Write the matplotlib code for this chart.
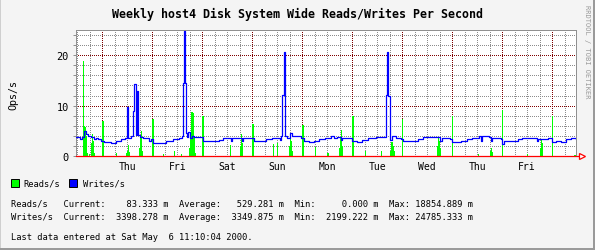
import matplotlib
matplotlib.use("Agg")
import matplotlib.pyplot as plt
from matplotlib.patches import Rectangle
import numpy as np

# ---------------- data (hours relative to Thu 00:00) ----------------
day_labels = ["Thu", "Fri", "Sat", "Sun", "Mon", "Tue", "Wed", "Thu", "Fri"]

writes_h = [-12.8, -10.9, -9.9, -9.0, -8.0, -7.1, -5.6, -4.2, -3.2, -2.3, -0.8, 0.6, 4.0, 6.4, 8.8,
            10.7, 11.7, 12.0, 12.4, 13.6, 14.5, 15.0, 15.5, 16.0, 16.7, 17.2, 17.9, 19.3, 21.3, 22.2,
            23.2, 24.1, 28.0, 30.4, 33.7, 36.6, 38.1, 38.7, 39.2, 39.7, 40.2, 40.7, 41.2, 42.1, 43.1,
            44.1, 47.0, 48.4, 53.3, 55.8, 57.7, 61.5, 62.0, 62.4, 66.4, 66.9, 67.3, 71.2, 72.6, 74.6,
            78.4, 81.7, 85.1, 86.0, 86.5, 87.0, 87.9, 88.9, 90.3, 91.3, 95.2, 96.6, 99.0, 101.4, 103.8,
            106.7, 109.6, 111.0, 112.5, 114.4, 115.3, 118.7, 120.1, 122.1, 124.5, 127.8, 131.2, 136.0,
            136.7, 137.4, 137.9, 138.9, 140.8, 143.2, 144.6, 149.4, 151.8, 154.2, 160.9, 161.9, 162.9,
            166.7, 168.1, 172.0, 174.9, 177.7, 181.1, 181.6, 182.1, 185.9, 186.6, 187.3, 191.2, 192.1,
            193.1, 197.9, 199.8, 201.7, 208.4, 208.9, 209.4, 214.2, 215.7, 217.6, 220.0, 222.4, 224.8,
            227.2]
writes_v = [3.7, 3.4, 3.7, 4.9, 4.4, 4.0, 3.8, 3.3, 3.6, 3.3, 3.0, 2.7, 2.6, 3.0, 3.4,
            3.6, 6.4, 9.7, 3.5, 4.0, 9.0, 14.3, 14.3, 4.2, 12.8, 4.2, 3.8, 3.5, 3.6, 3.0,
            3.4, 2.6, 2.6, 3.0, 3.4, 3.6, 3.9, 14.5, 24.8, 14.5, 4.5, 3.8, 4.8, 3.6, 4.0,
            3.7, 3.8, 2.9, 2.9, 3.2, 3.5, 3.5, 3.0, 3.5, 3.6, 2.9, 3.5, 3.5, 3.0, 2.9,
            3.3, 3.6, 3.2, 3.9, 12.1, 20.7, 4.0, 3.6, 4.5, 3.9, 3.6, 3.0, 2.8, 3.0, 3.3,
            3.6, 3.9, 3.5, 3.8, 3.2, 3.6, 3.5, 3.0, 2.8, 3.1, 3.5, 3.8, 12.1,
            20.7, 12.0, 3.2, 3.9, 3.6, 3.3, 2.9, 2.9, 3.3, 3.8, 3.8, 2.9, 3.6,
            3.4, 2.8, 2.9, 3.3, 3.6, 3.9, 3.0, 3.9, 3.8, 2.9, 3.5, 3.4, 2.4,
            2.9, 2.9, 3.3, 3.6, 3.5, 2.9, 3.4, 3.5, 2.7, 2.9, 2.8, 3.3, 3.6,
            3.4]

reads_h = [-9.2, -8.7, -8.2, -7.7, -7.2, -6.2, -5.1, -4.6, -4.1, -3.6, 0.3, 6.7, 11.7, 12.2, 12.7,
           13.2, 17.9, 18.4, 18.9, 19.4, 24.3, 29.5, 34.7, 38.0, 42.1, 42.6, 43.1, 43.6, 44.1, 44.6,
           48.3, 61.6, 66.2, 66.7, 67.2, 72.3, 82.2, 84.0, 89.9, 90.4, 90.9, 91.4, 96.3, 102.2, 108.3,
           113.9, 114.4, 114.9, 115.4, 120.3, 126.4, 134.2, 138.6, 139.1, 139.6, 140.1, 144.3, 160.8,
           161.3, 161.8, 162.3, 168.3, 180.6, 186.4, 186.9, 187.4, 192.3, 204.1, 210.4, 210.9, 211.4,
           216.3, 226.9]
reads_v = [18.9, 6.0, 5.8, 4.0, 0.5, 0.3, 2.5, 4.4, 3.0, 0.5, 6.9, 0.6, 0.6, 1.0, 2.1,
           0.8, 1.5, 3.5, 4.9, 1.0, 7.4, 0.3, 1.0, 0.4, 1.5, 4.3, 8.7, 8.5, 4.0, 0.6,
           7.9, 2.1, 2.0, 4.3, 2.5, 6.3, 2.3, 2.5, 2.0, 4.4, 3.0, 1.0, 6.2, 1.7, 0.6,
           1.5, 3.5, 5.1, 2.0, 8.0, 1.0, 1.0, 1.0, 2.7, 2.0, 1.0, 7.3, 2.0,
           3.7, 3.0, 1.5, 7.9, 0.4, 1.0, 1.6, 0.8, 9.1, 0.4, 1.5, 3.4, 2.5,
           7.9, 0.1]

reads_stats = [83.333, 529.281, 0.000, 18854.889]
writes_stats = [3398.278, 3349.875, 2199.222, 24785.333]
last_update = "Sat May  6 11:10:04 2000"

# ---------------- figure ----------------
W, H = 595, 251
fig = plt.figure(figsize=(W / 100, H / 100), dpi=100)
fig.patch.set_facecolor("#f4f4f4")
mono = "DejaVu Sans Mono"

def fx(px):
    return px / W

def fy(py):
    return 1 - py / H

ax_l, ax_r, ax_t, ax_b = 75.7, 575.5, 31.3, 156.7
ax = fig.add_axes([fx(ax_l), fy(ax_b), fx(ax_r - ax_l), (ax_b - ax_t) / H])
ax.set_facecolor("white")
X0, X1, Y0, Y1 = -12.8, 227.2, 0.0, 25.0
ax.set_xlim(X0, X1)
ax.set_ylim(Y0, Y1)

# dotted grid drawn as single-pixel dots (every 2 px), one artist per colour
dx = 2 * (X1 - X0) / (ax_r - ax_l)
dy = 2 * (Y1 - Y0) / (ax_b - ax_t)
dots_x = np.arange(X0, X1, dx)
dots_y = np.arange(Y0, Y1, dy)
minor_x = [float(v) for v in np.arange(-12, 227, 6) if v % 24 != 0]
major_x = [float(v) for v in np.arange(0, 217, 24)]
minor_y = [float(v) for v in np.arange(2, 25, 2) if v % 10 != 0]
major_y = [10.0, 20.0]
for xs, ys, col in [(minor_x, minor_y, "#8c8c8c"), (major_x, major_y, "#800000")]:
    px_, py_ = [], []
    for v in xs:
        px_.append(np.full(len(dots_y), v))
        py_.append(dots_y)
    for v in ys:
        px_.append(dots_x)
        py_.append(np.full(len(dots_x), v))
    ax.scatter(np.concatenate(px_), np.concatenate(py_), marker="s", s=0.72 ** 2, c=col,
               linewidths=0, zorder=1, antialiased=False)

ax.set_xticks([])
ax.set_yticks([0, 10, 20])
ax.set_yticks(np.arange(0, 25, 2), minor=True)
ax.tick_params(axis="y", which="major", length=2, width=0.72, color="#909090", pad=3,
               labelsize=7.4)
ax.tick_params(axis="y", which="minor", length=2, width=0.72, color="#909090")
for lab in ax.get_yticklabels():
    lab.set_family(mono)

for s in ["top", "left", "right"]:
    ax.spines[s].set_color("#909090")
    ax.spines[s].set_linewidth(0.72)
ax.spines["bottom"].set_visible(False)

# data
ax.bar(reads_h, reads_v, width=0.6, color="#00ff00", linewidth=0, align="center",
       zorder=3, antialiased=False)
ax.plot(writes_h, writes_v, drawstyle="steps-post", color="#0000ff", linewidth=0.9,
        zorder=4)

# x axis line with arrow
ax.plot([0, 1.007], [0, 0], transform=ax.transAxes, color="#ff0000", linewidth=0.9,
        clip_on=False, zorder=5)
ax.plot([1.013], [0], transform=ax.transAxes, marker=">", markersize=5,
        markerfacecolor="white", markeredgecolor="#ff0000", markeredgewidth=0.9,
        clip_on=False, zorder=5)

# day labels at noon
sec = ax.secondary_xaxis("bottom")
sec.set_xticks(np.arange(12, 217, 24), labels=day_labels)
sec.tick_params(length=0, pad=3.5, labelsize=7.0)
sec.spines["bottom"].set_visible(False)
for lab in sec.get_xticklabels():
    lab.set_family(mono)

# title / labels
fig.text(fx(298), fy(14.5), "Weekly host4 Disk System Wide Reads/Writes Per Second",
         ha="center", va="center", fontsize=8.4, fontweight="bold", family=mono)
fig.text(fx(13), fy(95), "Ops/s", rotation=90, ha="center", va="center",
         fontsize=7.2, family=mono)
fig.text(fx(587), fy(5), "RRDTOOL / TOBI OETIKER", rotation=270, ha="center", va="top",
         fontsize=5.0, family=mono, color="#999999")

# legend
for x0, col, lab, tx in [(11, "#00ff00", "Reads/s", 23.3), (69.3, "#0000ff", "Writes/s", 82.7)]:
    fig.patches.append(Rectangle((fx(x0), fy(187.5)), fx(7.5), 7.5 / H, facecolor=col,
                                 edgecolor="black", linewidth=0.7, transform=fig.transFigure))
    fig.text(fx(tx), fy(183.8), lab, ha="left", va="center", fontsize=6.3, family=mono)

line1 = "Reads/s   Current:%10.3f m  Average:%10.3f m  Min:%10.3f m  Max:%10.3f m" % tuple(reads_stats)
line2 = "Writes/s  Current:%10.3f m  Average:%10.3f m  Min:%10.3f m  Max:%10.3f m" % tuple(writes_stats)
fig.text(fx(11), fy(204.5), line1, ha="left", va="center", fontsize=6.3, family=mono)
fig.text(fx(11), fy(217.5), line2, ha="left", va="center", fontsize=6.3, family=mono)
fig.text(fx(11), fy(237.3), "Last data entered at %s." % last_update, ha="left", va="center",
         fontsize=6.3, family=mono)

# 3D border
fig.patches.append(Rectangle((0, 1 - 1.0 / H), 1, 1.0 / H, facecolor="#cfcfcf", linewidth=0,
                             transform=fig.transFigure))
fig.patches.append(Rectangle((0, 0), 1.0 / W, 1, facecolor="#cfcfcf", linewidth=0,
                             transform=fig.transFigure))
fig.patches.append(Rectangle((0, 0), 1, 2.5 / H, facecolor="#9a9a9a", linewidth=0,
                             transform=fig.transFigure))
fig.patches.append(Rectangle((1 - 2.5 / W, 0), 2.5 / W, 1, facecolor="#9a9a9a", linewidth=0,
                             transform=fig.transFigure))

fig.savefig("out.png", dpi=100, facecolor=fig.get_facecolor())
